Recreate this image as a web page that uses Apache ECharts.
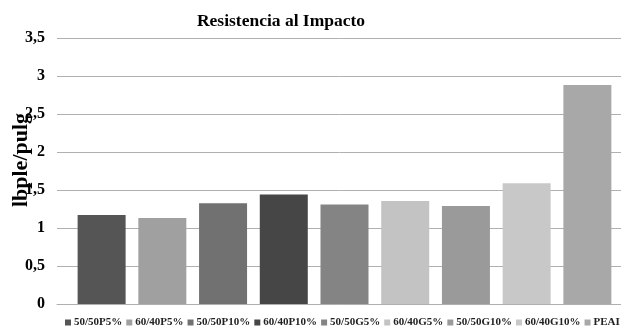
<!DOCTYPE html>
<html>
<head>
<meta charset="utf-8">
<script src="https://cdn.jsdelivr.net/npm/echarts@6/dist/echarts.min.js"></script>
<style>
  html, body { margin: 0; padding: 0; background: #fff; }
  #chart { width: 621px; height: 334px; }
</style>
</head>
<body>
<div id="chart"></div>
<script>
// Impact resistance per blend (lbpie/pulg)
const seriesNames = ['50/50P5%', '60/40P5%', '50/50P10%', '60/40P10%', '50/50G5%', '60/40G5%', '50/50G10%', '60/40G10%', 'PEAI'];
const seriesValues = [1.17, 1.13, 1.325, 1.44, 1.31, 1.355, 1.29, 1.59, 2.88];
const seriesColors = ['#555555', '#a0a0a0', '#717171', '#464646', '#848484', '#c3c3c3', '#9a9a9a', '#c8c8c8', '#a8a8a8'];
const categories = [''];

const serif = '"Liberation Serif", "Times New Roman", serif';
const chart = echarts.init(document.getElementById('chart'), null, { renderer: 'canvas' });

const series = seriesNames.map((name, i) => ({
  name: name,
  type: 'bar',
  data: [seriesValues[i]],
  barWidth: 48,
  barGap: '26.5%',
  itemStyle: { color: seriesColors[i] }
}));

chart.setOption({
  animation: false,
  backgroundColor: '#fff',
  title: {
    text: 'Resistencia al Impacto',
    left: 276,
    textAlign: 'center',
    top: 7,
    textStyle: { fontFamily: serif, fontWeight: 'bold', fontSize: 17.5, color: '#000' }
  },
  legend: {
    data: seriesNames,
    bottom: 1,
    left: 60,
    width: 600,
    itemWidth: 6,
    itemHeight: 6,
    itemGap: 4,
    icon: 'rect',
    textStyle: { fontFamily: serif, fontWeight: 'bold', fontSize: 11, color: '#222', padding: [0, 0, 0, -2] }
  },
  grid: { left: 57, right: -11, top: 38, bottom: 30, containLabel: false, outerBoundsMode: 'none' },
  xAxis: {
    type: 'category',
    data: categories,
    axisLine: { lineStyle: { color: '#b0b0b0' } },
    axisTick: { show: false },
    axisLabel: { show: false }
  },
  yAxis: {
    type: 'value',
    min: 0,
    max: 3.5,
    interval: 0.5,
    name: 'lbple/pulg',
    nameLocation: 'middle',
    nameGap: 25,
    nameMoveOverlap: false,
    nameTextStyle: { fontFamily: serif, fontWeight: 'bold', fontSize: 22, color: '#000', padding: [0, 0, 0, 22] },
    axisLine: { show: false },
    axisTick: { show: false },
    splitLine: { lineStyle: { color: '#b0b0b0', width: 1 } },
    axisLabel: {
      fontFamily: serif, fontWeight: 'bold', fontSize: 16, color: '#000', margin: 12,
      formatter: v => String(v).replace('.', ',')
    }
  },
  series: series
});
</script>
</body>
</html>
